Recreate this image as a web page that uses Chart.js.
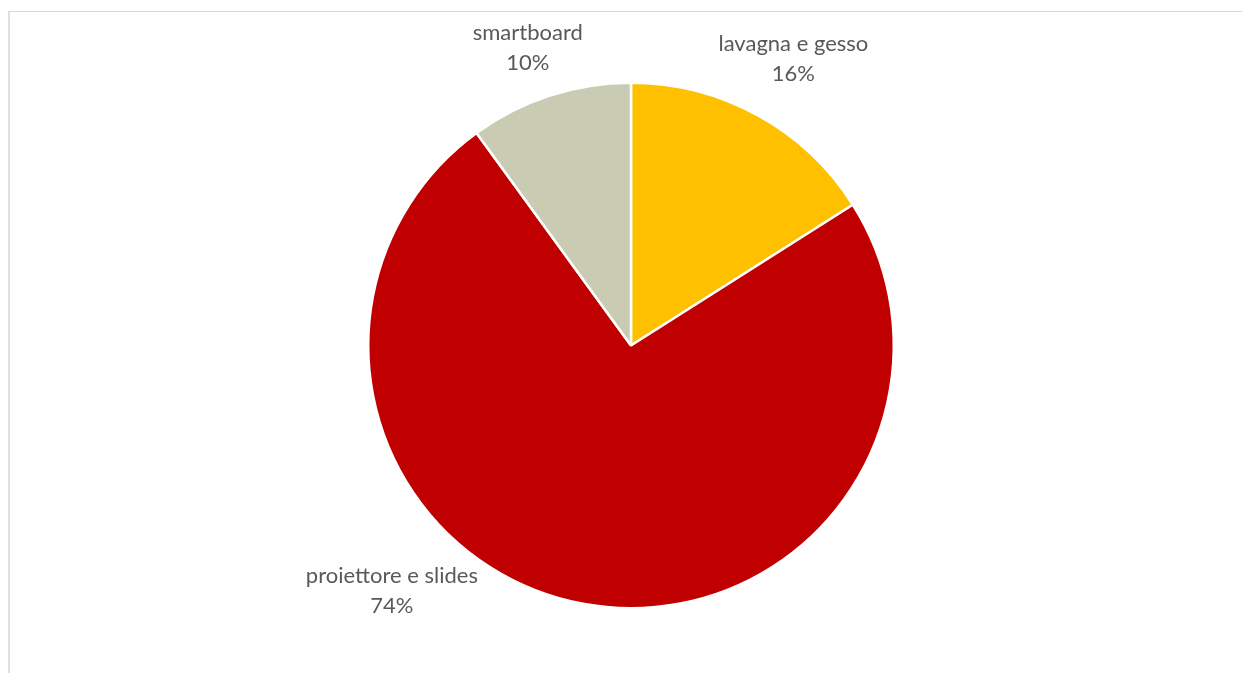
<!DOCTYPE html>
<html>
<head>
<meta charset="utf-8">
<script src="https://cdn.jsdelivr.net/npm/chart.js@4/dist/chart.umd.min.js"></script>
<style>
  body { margin: 0; background: #fff; overflow: hidden; }
  #wrap { position: relative; width: 1242px; height: 673px; }
  #frame {
    position: absolute; left: 8px; top: 11px; width: 1300px; height: 700px;
    border-top: 1px solid #d9d9d9; border-left: 2px solid #e0e0e0;
  }
  canvas { position: absolute; left: 0; top: 0; }
</style>
</head>
<body>
<div id="wrap">
  <div id="frame"></div>
  <canvas id="pieChart" width="1242" height="673"></canvas>
</div>
<script>
// Chart data
const categories = ['lavagna e gesso', 'proiettore e slides', 'smartboard'];
const shares = [16, 74, 10];
const sliceColors = ['#FFC000', '#C00000', '#C9CCB3'];

// Label anchors (first baseline), relative to pie centre in radius units
const labelAnchors = [[0.618, -1.122], [-0.910, 0.905], [-0.393, -1.164]];

// Draws Excel-style outside labels: name on one line, percent under it
const outsideLabels = {
  id: 'outsideLabels',
  afterDatasetsDraw(chart) {
    const ctx = chart.ctx;
    const meta = chart.getDatasetMeta(0);
    const total = shares.reduce((a, b) => a + b, 0);
    ctx.save();
    ctx.font = '22px Lato, "Open Sans", sans-serif';
    ctx.fillStyle = '#595959';
    ctx.textAlign = 'center';
    ctx.textBaseline = 'alphabetic';
    meta.data.forEach((arc, i) => {
      const r = arc.outerRadius;
      const x = arc.x + labelAnchors[i][0] * r;
      const y = arc.y + labelAnchors[i][1] * r;
      const pct = Math.round(shares[i] / total * 100) + '%';
      ctx.fillText(categories[i], x, y);
      ctx.fillText(pct, x, y + 30);
    });
    ctx.restore();
  }
};

document.addEventListener('DOMContentLoaded', () => {
  const ctx = document.getElementById('pieChart').getContext('2d');
  new Chart(ctx, {
    type: 'pie',
    data: {
      labels: categories,
      datasets: [{
        data: shares,
        backgroundColor: sliceColors,
        borderColor: '#FFFFFF',
        borderWidth: 2.5
      }]
    },
    options: {
      responsive: false,
      animation: false,
      layout: {
        padding: { top: 81, bottom: 63, left: 367, right: 347 }
      },
      plugins: {
        legend: { display: false },
        tooltip: { enabled: false }
      }
    },
    plugins: [outsideLabels]
  });
});
</script>
</body>
</html>
